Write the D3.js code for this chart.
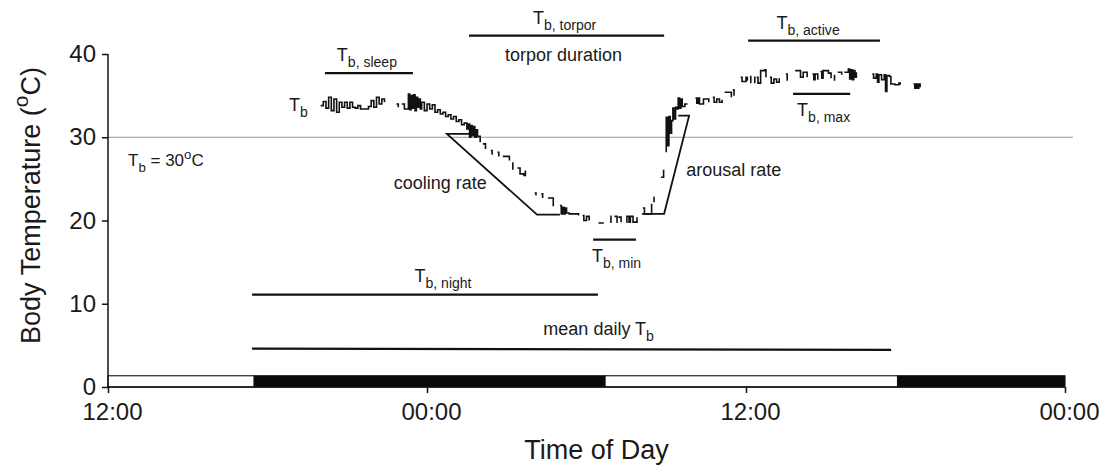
<!DOCTYPE html>
<html>
<head>
<meta charset="utf-8">
<script src="https://cdn.jsdelivr.net/npm/d3@7"></script>
<style>
  body { margin: 0; background: #fff; }
  text, tspan { font-family: "Liberation Sans", Arial, sans-serif; fill: #1a1a1a; }
</style>
</head>
<body>
<script>
const width = 1106;
const height = 471;

// ---- data (hours since midnight of day 1, body temperature in degC) ----
const xTickHours = [12, 24, 36, 48];
const xTickLabels = ["12:00", "00:00", "12:00", "00:00"];
const yTickValues = [0, 10, 20, 30, 40];

// light / dark bar
const phaseStart = [12, 17.5, 30.7, 41.7];
const phaseEnd = [17.5, 30.7, 41.7, 48];
const phaseDark = [false, true, false, true];

const thresholdTemp = 30;

// body temperature trace, null = gap in the record
const sleepTrace = [
    [20.0, 33.8], [20.1, 34.3], [20.2, 33.5], [20.3, 34.8], [20.4, 33.2], [20.5, 34.6],
    [20.6, 33.0], [20.7, 34.2], [20.8, 33.6], [20.9, 34.2], [21.0, 33.5], [21.1, 34.2],
    [21.2, 33.6], [21.3, 33.5], [21.4, 33.8], [21.5, 33.4], [21.6, 33.4], [21.7, 33.4],
    [21.8, 33.7], [21.9, 34.4], [22.0, 33.6], [22.1, 34.8], [22.2, 34.0], [22.3, 34.6],
    [22.4, 34.2],
    null,
    [22.85, 34.0], [22.92, 33.6],
    null,
    [23.05, 34.0], [23.15, 33.4], [23.3, 35.2], [23.35, 33.3], [23.4, 35.0], [23.45, 33.5],
    [23.5, 35.1], [23.55, 33.2], [23.6, 34.8], [23.65, 33.6], [23.7, 34.6], [23.75, 33.4],
    [23.8, 34.2], [23.9, 33.2], [24.0, 34.0], [24.1, 33.4], [24.2, 33.9], [24.3, 33.0],
    [24.4, 33.3], [24.5, 32.8], [24.6, 33.0], [24.7, 32.5], [24.8, 32.7], [24.9, 32.2],
    [25.0, 32.5], [25.1, 31.9], [25.2, 32.1], [25.3, 31.5], [25.4, 31.7], [25.5, 31.0],
    [25.55, 31.6], [25.6, 30.0], [25.65, 31.4], [25.7, 30.2], [25.75, 31.3], [25.8, 30.0],
    [25.85, 30.9], [25.9, 30.1], [26.0, 29.4]
];

const coolingTrace = [
    [26.1, 29.2], [26.2, 28.6], null,
    [26.4, 28.4], [26.45, 27.9], null,
    [26.65, 28.2], [26.7, 27.7], null,
    [26.85, 27.7], [27.1, 27.2], null,
    [27.2, 26.9], [27.23, 26.1], null,
    [27.4, 26.3], [27.5, 25.6], [27.65, 25.4], [27.7, 26.0], null,
    [28.05, 23.3], [28.1, 23.0], null,
    [28.3, 23.2], [28.35, 22.7], null,
    [28.55, 22.7], [28.7, 22.7], [28.75, 21.7], null,
    [29.0, 21.8], [29.05, 20.8], [29.1, 21.6], [29.15, 20.8], [29.2, 21.5], [29.25, 20.9],
    [29.3, 20.9], [29.35, 20.8], [29.7, 20.6], null
];

const torporTrace = [
    [29.85, 20.6], [29.9, 20.0], [30.0, 20.5], [30.1, 20.0], null,
    [30.45, 19.7], [30.65, 19.7], null,
    [30.9, 20.5], [30.92, 19.7], null,
    [31.05, 20.5], [31.15, 19.7], null,
    [31.2, 20.4], [31.3, 19.8], null,
    [31.5, 19.8], [31.52, 20.5], [31.6, 19.8], [31.65, 20.5], [31.75, 19.8], [31.9, 20.4], null
];

const arousalTrace = [
    [32.12, 21.5], [32.18, 20.8], [32.45, 22.0], null,
    [32.52, 22.8], [32.54, 22.2], null,
    [32.8, 25.2], [32.9, 26.1], null,
    [32.98, 28.3], [33.0, 32.4], [33.05, 29.0], [33.1, 32.5], [33.15, 30.5],
    [33.2, 32.0], [33.25, 33.5], [33.3, 32.2], [33.35, 33.6], [33.4, 33.4], [33.45, 34.7],
    [33.5, 33.5], [33.55, 34.6], [33.6, 33.7], [33.7, 34.0], [33.8, 34.0], null,
    [34.1, 34.7], [34.15, 34.1], [34.2, 34.7], [34.25, 34.0], [34.4, 34.6], [34.6, 34.2], null,
    [34.75, 34.8], [34.8, 34.2], [34.9, 34.6], [35.0, 34.2], [35.1, 34.5], null,
    [35.2, 35.4], [35.4, 35.4], [35.45, 34.8], null,
    [35.5, 35.7], [35.55, 35.0], null
];

const activeTrace = [
    [35.8, 37.2], [35.85, 36.7], [36.0, 37.2], [36.05, 36.8], null,
    [36.15, 37.3], [36.18, 36.5], null,
    [36.3, 37.2], [36.33, 36.5], null,
    [36.4, 37.2], [36.45, 36.5], [36.55, 38.0], [36.7, 38.1], [36.75, 37.2], null,
    [36.9, 37.2], [36.95, 36.5], [37.05, 37.0], [37.15, 36.6], [37.25, 37.1], null,
    [37.5, 37.6], [37.55, 36.8], null,
    [37.85, 38.0], [38.05, 37.2], [38.15, 37.8], [38.3, 37.2], null,
    [38.5, 37.6], [38.55, 36.9], [38.6, 37.6], [38.7, 36.9], null,
    [38.8, 37.9], [38.85, 37.1], [38.9, 38.0], [39.1, 37.7], [39.2, 37.1], null,
    [39.3, 37.4], [39.33, 36.8], null,
    [39.45, 37.8], [39.6, 37.5], null,
    [39.7, 37.8], [39.82, 37.8], [39.85, 38.2], [39.9, 37.0], [39.95, 38.1], [40.0, 36.9],
    [40.05, 38.0], [40.1, 37.2], [40.15, 37.8], null,
    [40.75, 37.6], [40.8, 37.1], [40.9, 37.6], [40.95, 36.6], [41.0, 37.5], [41.1, 36.9],
    [41.2, 37.5], [41.25, 35.5], [41.3, 37.4], [41.4, 37.3], [41.45, 36.4], [41.6, 36.3],
    [41.75, 36.5], [41.8, 36.3], null,
    [42.3, 36.4], [42.35, 35.9], [42.4, 36.4], [42.45, 35.9], [42.5, 36.4], [42.55, 36.0]
];

// rate annotations (outline of the fitted slopes)
const coolingRateShape = [[25.75, 30.4], [24.75, 30.4], [28.14, 20.7], [29.0, 20.7]];
const arousalRateShape = [[32.09, 20.8], [32.92, 20.8], [33.86, 32.6], [33.45, 32.6]];

// horizontal measurement bars
const barKeys = ["sleep", "torpor", "active", "max", "min", "night", "daily"];
const barStart = [20.16, 25.58, 36.08, 37.77, 30.25, 17.42, 17.42];
const barEnd = [23.47, 32.92, 41.04, 39.92, 31.86, 30.43, 41.46];
const barTempStart = [37.7, 42.2, 41.6, 35.2, 17.7, 11.1, 4.6];
const barTempEnd = [37.7, 42.2, 41.6, 35.2, 17.7, 11.1, 4.45];

// ---- layout ----
const margin = { top: 54, right: 41, bottom: 84, left: 108 };
const font = '"Liberation Sans", Arial, sans-serif';

const svg = d3
    .select("body")
    .append("svg")
    .attr("width", width)
    .attr("height", height);

const x = d3.scaleLinear().domain([12, 48]).range([margin.left, width - margin.right]);
const y = d3.scaleLinear().domain([0, 40]).range([height - margin.bottom, margin.top]);

// light/dark bar
const phases = phaseStart.map((s, i) => ({ start: s, end: phaseEnd[i], dark: phaseDark[i] }));
svg.append("g")
    .selectAll("rect")
    .data(phases)
    .enter()
    .append("rect")
    .attr("x", (d) => x(d.start))
    .attr("width", (d) => x(d.end) - x(d.start))
    .attr("y", y(1.35))
    .attr("height", y(0) - y(1.35))
    .attr("fill", (d) => (d.dark ? "#0a0a0a" : "#fff"))
    .attr("stroke", "#111")
    .attr("stroke-width", 1.1);

// Tb = 30 reference line
svg.append("line")
    .attr("x1", x(12))
    .attr("x2", x(48.3))
    .attr("y1", y(thresholdTemp))
    .attr("y2", y(thresholdTemp))
    .attr("stroke", "#9a9a9a")
    .attr("stroke-width", 1.2);

// axes
const yAxis = d3.axisLeft(y).tickValues(yTickValues).tickSize(6).tickPadding(6);
const yG = svg.append("g").attr("transform", `translate(${margin.left},0)`).call(yAxis);
const xAxis = d3
    .axisBottom(x)
    .tickValues(xTickHours)
    .tickFormat((d, i) => xTickLabels[i])
    .tickSize(6)
    .tickPadding(10);
const xG = svg.append("g").attr("transform", `translate(0,${y(0)})`).call(xAxis);

[yG, xG].forEach((g) => {
    g.select(".domain").attr("stroke", "#111").attr("stroke-width", 1.5);
    g.selectAll(".tick line").attr("stroke", "#111").attr("stroke-width", 1.5);
    g.selectAll(".tick text")
        .attr("font-family", font)
        .attr("font-size", 24)
        .attr("fill", "#1a1a1a");
});
yG.select(".domain").attr("d", `M0,${y(40)}V${y(0)}`);
xG.select(".domain").attr("d", `M${x(12)},0H${x(48)}`);
xG.selectAll(".tick text").attr("dx", 4);

// helper for text with sub/superscripts
function richText(sel, parts, size, anchor) {
    const t = sel.append("text")
        .attr("font-size", size)
        .attr("font-family", font)
        .attr("fill", "#1a1a1a")
        .attr("text-anchor", anchor || "middle");
    let cur = 0;
    parts.forEach(([str, kind]) => {
        const off = kind === "sub" ? size * 0.33 : kind === "sup" ? -size * 0.45 : 0;
        t.append("tspan")
            .attr("dy", off - cur)
            .attr("font-size", kind ? size * 0.78 : size)
            .attr("fill", "#1a1a1a")
            .text(str);
        cur = off;
    });
    return t;
}

// trace
const traceLine = d3
    .line()
    .defined((d) => d !== null)
    .x((d) => x(d[0]))
    .y((d) => y(d[1]))
    .curve(d3.curveStepAfter);

[sleepTrace, coolingTrace, torporTrace, arousalTrace, activeTrace].forEach((seg) => {
    svg.append("path")
        .attr("d", traceLine(seg))
        .attr("fill", "none")
        .attr("stroke", "#111")
        .attr("stroke-width", 1.6);
});

// rate shapes
const shapeLine = d3.line().x((d) => x(d[0])).y((d) => y(d[1]));
[coolingRateShape, arousalRateShape].forEach((s) => {
    svg.append("path")
        .attr("d", shapeLine(s))
        .attr("fill", "none")
        .attr("stroke", "#111")
        .attr("stroke-width", 1.8);
});

// measurement bars
const bars = barKeys.map((k, i) => ({
    key: k, start: barStart[i], end: barEnd[i], t0: barTempStart[i], t1: barTempEnd[i]
}));
svg.append("g")
    .selectAll("line")
    .data(bars)
    .enter()
    .append("line")
    .attr("x1", (d) => x(d.start))
    .attr("x2", (d) => x(d.end))
    .attr("y1", (d) => y(d.t0))
    .attr("y2", (d) => y(d.t1))
    .attr("stroke", "#111")
    .attr("stroke-width", 2.2);

const barByKey = {};
bars.forEach((b) => (barByKey[b.key] = b));
const mid = (b) => (x(b.start) + x(b.end)) / 2;

const ann = svg.append("g");
const fs = 18;

richText(ann, [["T"], ["b, sleep", "sub"]], fs)
    .attr("transform", `translate(${mid(barByKey.sleep) - 2},${y(barByKey.sleep.t0) - 12})`);
richText(ann, [["T"], ["b, torpor", "sub"]], fs)
    .attr("transform", `translate(${mid(barByKey.torpor) - 2},${y(barByKey.torpor.t0) - 12})`);
ann.append("text")
    .attr("x", mid(barByKey.torpor) - 3)
    .attr("y", y(barByKey.torpor.t0) + 25)
    .attr("font-size", fs)
    .attr("font-family", font)
    .attr("text-anchor", "middle")
    .text("torpor duration");
richText(ann, [["T"], ["b, active", "sub"]], fs)
    .attr("transform", `translate(${mid(barByKey.active) - 6},${y(barByKey.active.t0) - 12})`);
richText(ann, [["T"], ["b, max", "sub"]], fs)
    .attr("transform", `translate(${mid(barByKey.max) + 2},${y(barByKey.max.t0) + 22})`);
richText(ann, [["T"], ["b, min", "sub"]], fs)
    .attr("transform", `translate(${mid(barByKey.min) + 2},${y(barByKey.min.t0) + 22})`);
richText(ann, [["T"], ["b, night", "sub"]], fs)
    .attr("transform", `translate(${mid(barByKey.night) + 18},${y(barByKey.night.t0) - 13})`);
richText(ann, [["mean daily T"], ["b", "sub"]], fs)
    .attr("transform", `translate(${mid(barByKey.daily) + 27},${y(barByKey.daily.t0) - 14})`);

richText(ann, [["T"], ["b", "sub"]], fs, "start")
    .attr("transform", `translate(${x(19.94) - 30},${y(33.2)})`);
richText(ann, [["T"], ["b", "sub"], [" = 30"], ["o", "sup"], ["C"]], 17, "start")
    .attr("transform", `translate(${x(12) + 20},${y(thresholdTemp) + 29})`);

ann.append("text")
    .attr("x", x(24.5))
    .attr("y", y(23.8))
    .attr("font-size", fs)
    .attr("font-family", font)
    .attr("text-anchor", "middle")
    .text("cooling rate");
ann.append("text")
    .attr("x", x(33.75))
    .attr("y", y(25.4))
    .attr("font-size", fs)
    .attr("font-family", font)
    .attr("text-anchor", "start")
    .text("arousal rate");

// axis titles
richText(svg, [["Body Temperature ("], ["o", "sup"], ["C)"]], 27)
    .attr("transform", `translate(40,${(y(0) + y(40)) / 2 - 15}) rotate(-90)`);
svg.append("text")
    .attr("x", (x(12) + x(48)) / 2 + 10)
    .attr("y", height - 12)
    .attr("font-size", 27)
    .attr("font-family", font)
    .attr("text-anchor", "middle")
    .text("Time of Day");
</script>
</body>
</html>
